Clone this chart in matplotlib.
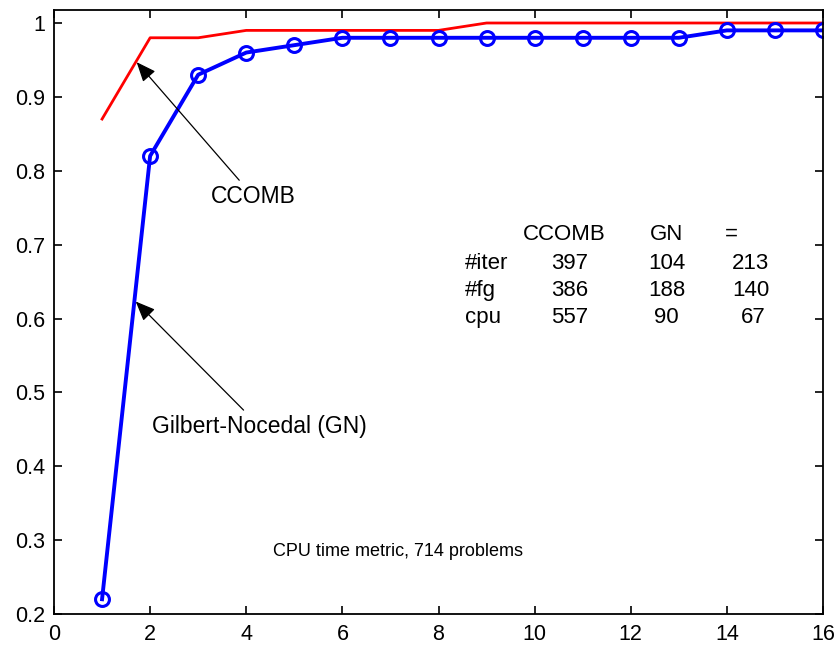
import matplotlib.pyplot as plt

plt.rcParams['font.family'] = ['Liberation Sans', 'DejaVu Sans']

x = list(range(1, 17))
ccomb = [0.87, 0.98, 0.98, 0.99, 0.99, 0.99, 0.99, 0.99,
         1.00, 1.00, 1.00, 1.00, 1.00, 1.00, 1.00, 1.00]
gn = [0.22, 0.82, 0.93, 0.96, 0.97, 0.98, 0.98, 0.98,
      0.98, 0.98, 0.98, 0.98, 0.98, 0.99, 0.99, 0.99]

col_heads = ['CCOMB', 'GN', '=']
row_labels = ['#iter', '#fg', 'cpu']
table_vals = [[397, 104, 213], [386, 188, 140], [557, 90, 67]]

fig = plt.figure(figsize=(8.4, 6.51), dpi=100)
ax = fig.add_axes([54 / 840, 1 - 614 / 651, (823 - 54) / 840, (614 - 10) / 651])

ax.plot(x, ccomb, color='#ff0000', lw=2)
ax.plot(x, gn, color='#0000ff', lw=2.8, marker='o', markersize=10,
        markerfacecolor='none', markeredgewidth=2.2)

ax.set_xlim(0, 16)
ax.set_ylim(0.2, 1.0176)
ax.set_xticks(range(0, 17, 2))
ax.set_yticks([0.2, 0.3, 0.4, 0.5, 0.6, 0.7, 0.8, 0.9, 1.0])
ax.set_yticklabels(['0.2', '0.3', '0.4', '0.5', '0.6', '0.7', '0.8', '0.9', '1'])
ax.tick_params(direction='in', length=6, width=1.2, top=True, right=True,
               labelsize=15.5)
ax.tick_params(axis='y', pad=6.5)
ax.tick_params(axis='x', pad=7)
for s in ax.spines.values():
    s.set_linewidth(1.3)

arrow = dict(arrowstyle='-|>,head_length=0.6,head_width=0.25', color='black',
             lw=0.9, mutation_scale=20, shrinkA=2, shrinkB=0)
ax.annotate('CCOMB', xy=(1.72, 0.947), xytext=(4.15, 0.765), fontsize=16.5,
            ha='center', va='center', arrowprops=arrow)
ax.annotate('Gilbert-Nocedal (GN)', xy=(1.70, 0.623), xytext=(4.28, 0.454),
            fontsize=16.5, ha='center', va='center', arrowprops=arrow)

ax.text(7.15, 0.285, 'CPU time metric, 714 problems', fontsize=13,
        ha='center', va='center')

# little results table
head_x = [10.61, 12.75, 14.09]
val_x = [10.72, 12.75, 14.5]
for j, h in enumerate(col_heads):
    ax.text(head_x[j], 0.7135, h, fontsize=16, ha='center', va='center')
row_y = [0.674, 0.638, 0.601]
for i, lab in enumerate(row_labels):
    ax.text(8.55, row_y[i], lab, fontsize=16, ha='left', va='center')
    for j, v in enumerate(table_vals[i]):
        ax.text(val_x[j] + (0.05 if j == 2 and v < 100 else 0), row_y[i], str(v),
                fontsize=16, ha='center', va='center')

fig.savefig('out.png', dpi=100)
